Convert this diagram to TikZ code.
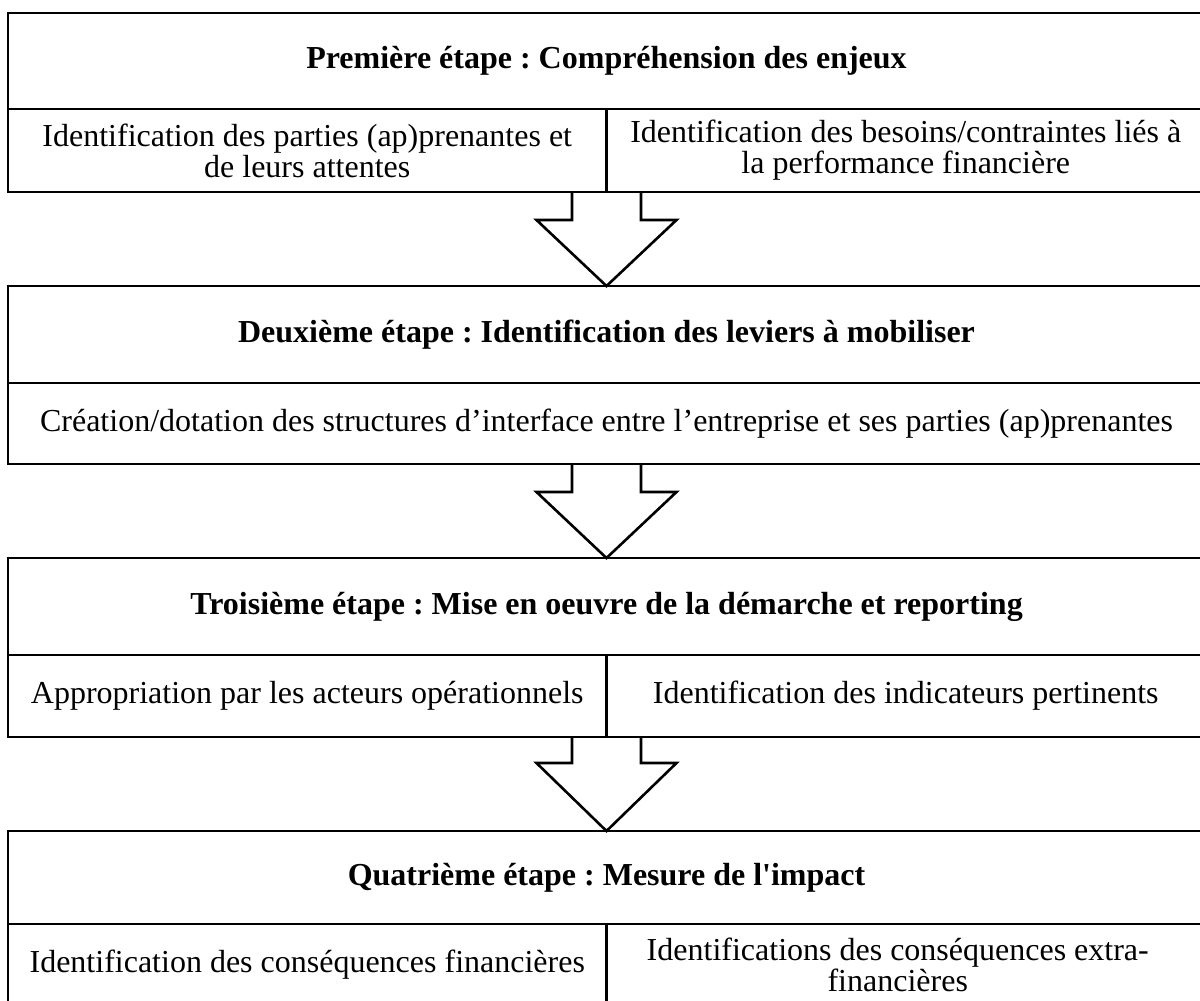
\documentclass[tikz,border=0pt]{standalone}
\usepackage{fontspec}
\setmainfont{Liberation Serif}[Ligatures=TeXOff]
\usetikzlibrary{calc}
\frenchspacing
\begin{document}
\begin{tikzpicture}[x=1pt,y=-1pt,
  frame/.style={draw, line width=2.6pt, minimum width=1197pt, anchor=north west, inner sep=0pt, outer sep=0pt},
  rule/.style={line width=2.2pt},
  heading/.style={font=\fontsize{32}{31}\selectfont\bfseries, align=center, inner sep=0pt},
  cell/.style={font=\fontsize{32}{31}\selectfont, align=center, inner sep=0pt},
  flow/.style={draw, line width=2.6pt, line join=miter}]
\useasboundingbox (0,0) rectangle (1200,1001);
\clip (0,0) rectangle (1200,1001);

% stage frames
\node[frame, minimum height=179pt] (s1) at (8,13) {};
\node[frame, minimum height=178pt] (s2) at (8,286) {};
\node[frame, minimum height=179pt] (s3) at (8,558) {};
\node[frame, minimum height=179pt] (s4) at (8,831) {};

% header / content separators
\coordinate (d1) at ($(s1.north)+(0,96)$);
\coordinate (d2) at ($(s2.north)+(0,97)$);
\coordinate (d3) at ($(s3.north)+(0,97)$);
\coordinate (d4) at ($(s4.north)+(0,93)$);
\draw[rule] (s1.west |- d1) -- (s1.east |- d1);
\draw[rule] (s2.west |- d2) -- (s2.east |- d2);
\draw[rule] (s3.west |- d3) -- (s3.east |- d3);
\draw[rule] (s4.west |- d4) -- (s4.east |- d4);
\draw[rule] (d1) -- (s1.south);
\draw[rule] (d3) -- (s3.south);
\draw[rule] (d4) -- (s4.south);

% headings
\node[heading] (h1) at ($(s1.north)!0.5!(d1)$) {Première étape : Compréhension des enjeux};
\node[heading] (h2) at ($(s2.north)!0.5!(d2)$) {Deuxième étape : Identification des leviers à mobiliser};
\node[heading] (h3) at ($(s3.north)!0.5!(d3)$) {Troisième étape : Mise en oeuvre de la démarche et reporting};
\node[heading] (h4) at ($(s4.north)!0.5!(d4)$) {Quatrième étape : Mesure de l'impact};

% contents
\node[cell] (c1a) at ($(s1.west |- d1)!0.5!(s1.south)$) {Identification des parties (ap)prenantes et\\de leurs attentes};
\node[cell] (c1b) at ($(s1.east |- d1)!0.5!(s1.south)$) {Identification des besoins/contraintes liés à\\la performance financière};
\node[cell] (c2) at ($(d2)!0.5!(s2.south)$) {Création/dotation des structures d’interface entre l’entreprise et ses parties (ap)prenantes};
\node[cell] (c3a) at ($(s3.west |- d3)!0.5!(s3.south)$) {Appropriation par les acteurs opérationnels};
\node[cell] (c3b) at ($(s3.east |- d3)!0.5!(s3.south)$) {Identification des indicateurs pertinents};
\node[cell] (c4a) at ($(s4.west |- d4)!0.5!(s4.south) + (0,-2)$) {Identification des conséquences financières};
\node[cell] (c4b) at ($(s4.east |- d4)!0.5!(s4.south) + (-8,-2)$) {Identifications des conséquences extra-\\financières};

% block arrows between stages
\draw[flow] ($(s1.south)+(-34.5,0)$) -- ++(0,28) -- ++(-35.5,0) -- (s2.north) -- ($(s1.south)+(70,28)$) -- ++(-35.5,0) -- ++(0,-28);
\draw[flow] ($(s2.south)+(-34.5,0)$) -- ++(0,28) -- ++(-35.5,0) -- (s3.north) -- ($(s2.south)+(70,28)$) -- ++(-35.5,0) -- ++(0,-28);
\draw[flow] ($(s3.south)+(-34.5,0)$) -- ++(0,26) -- ++(-35.5,0) -- (s4.north) -- ($(s3.south)+(70,26)$) -- ++(-35.5,0) -- ++(0,-26);
\end{tikzpicture}
\end{document}
